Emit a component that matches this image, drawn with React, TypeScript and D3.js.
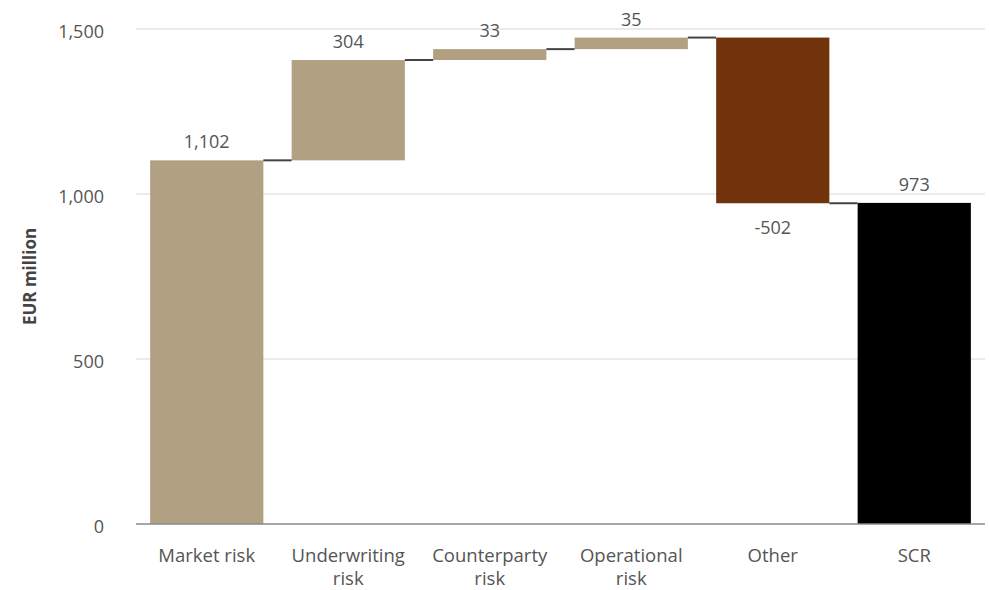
import React from "react";
import * as d3 from "d3";

// SCR breakdown, EUR million
const categories: string[][] = [
  ["Market risk"],
  ["Underwriting", "risk"],
  ["Counterparty", "risk"],
  ["Operational", "risk"],
  ["Other"],
  ["SCR"],
];
const deltas: number[] = [1102, 304, 33, 35, -502];
const totalValue = 973;
const labels: string[] = ["1,102", "304", "33", "35", "-502", "973"];
const yTicks: number[] = [0, 500, 1000, 1500];

const W = 989;
const H = 590;
const M = { left: 136, right: 4, top: 29, bottom: 66 };

const TAN = "#b1a182";
const BROWN = "#71330c";
const FONT = "'Open Sans', Lato, sans-serif";

export default function App() {
  const x = d3
    .scaleBand<number>()
    .domain(d3.range(categories.length))
    .range([M.left, W - M.right])
    .paddingInner(0.2)
    .paddingOuter(0.1);
  const y = d3.scaleLinear().domain([0, 1500]).range([H - M.bottom, M.top]);

  // running start/end of each waterfall step
  const steps: { start: number; end: number; color: string }[] = [];
  let acc = 0;
  deltas.forEach((d) => {
    steps.push({ start: acc, end: acc + d, color: d < 0 ? BROWN : TAN });
    acc += d;
  });
  steps.push({ start: 0, end: totalValue, color: "#000" });

  const bw = x.bandwidth();

  return (
    <svg
      width={W}
      height={H}
      style={{ position: "absolute", left: 0, top: 0, background: "#fff" }}
      fontFamily={FONT}
    >
      {yTicks.map((t) =>
        t === 0 ? null : (
          <line
            key={t}
            x1={M.left}
            x2={W - M.right}
            y1={y(t)}
            y2={y(t)}
            stroke="#e4e4e4"
            strokeWidth={1.5}
          />
        )
      )}
      {yTicks.map((t) => (
        <text
          key={"yl" + t}
          x={104}
          y={y(t)}
          dy="0.52em"
          textAnchor="end"
          fontSize={18}
          fill="#555"
        >
          {d3.format(",")(t)}
        </text>
      ))}
      <text
        transform={`translate(36,${y(750)}) rotate(-90)`}
        textAnchor="middle"
        fontSize={17}
        fontWeight="bold"
        fill="#444"
      >
        EUR million
      </text>

      {steps.map((s, i) => {
        const x0 = x(i)!;
        const top = y(Math.max(s.start, s.end));
        const bot = y(Math.min(s.start, s.end));
        return (
          <rect
            key={"b" + i}
            x={x0}
            y={top}
            width={bw}
            height={bot - top}
            fill={s.color}
          />
        );
      })}

      {steps.slice(0, -1).map((s, i) => (
        <line
          key={"c" + i}
          x1={x(i)! + bw}
          x2={x(i + 1)!}
          y1={y(s.end)}
          y2={y(s.end)}
          stroke="#444"
          strokeWidth={2}
        />
      ))}

      {steps.map((s, i) => {
        const cx = x(i)! + bw / 2;
        const neg = s.end < s.start;
        const ly = neg
          ? y(Math.min(s.start, s.end)) + 31
          : y(Math.max(s.start, s.end)) - 12;
        return (
          <text
            key={"v" + i}
            x={cx}
            y={ly}
            textAnchor="middle"
            fontSize={18}
            fill="#555"
          >
            {labels[i]}
          </text>
        );
      })}

      <line
        x1={M.left}
        x2={W - M.right}
        y1={y(0)}
        y2={y(0)}
        stroke="#888"
        strokeWidth={1.5}
      />

      {categories.map((lines, i) => (
        <text
          key={"x" + i}
          x={x(i)! + bw / 2}
          y={y(0) + 38}
          textAnchor="middle"
          fontSize={18.5}
          fill="#555"
        >
          {lines.map((l, j) => (
            <tspan key={j} x={x(i)! + bw / 2} dy={j === 0 ? 0 : 23}>
              {l}
            </tspan>
          ))}
        </text>
      ))}
    </svg>
  );
}
